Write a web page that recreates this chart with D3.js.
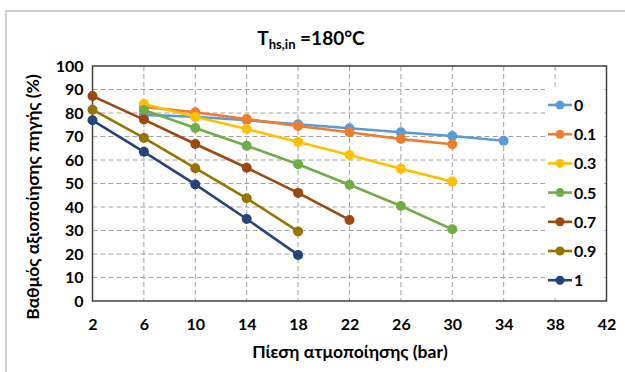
<!DOCTYPE html>
<html>
<head>
<meta charset="utf-8">
<script src="https://cdn.jsdelivr.net/npm/d3@7"></script>
<style>
  html, body { margin: 0; padding: 0; background: #fff; }
  svg { display: block; }
  text { font-family: Lato, "Open Sans", sans-serif; font-weight: bold; fill: #000; }
</style>
</head>
<body>
<svg id="chart" width="625" height="372"></svg>
<script>
// Series labels and colours
const seriesNames = ["0", "0.1", "0.3", "0.5", "0.7", "0.9", "1"];
const seriesColors = ["#5B9BD5", "#ED7D31", "#FFC000", "#70AD47", "#9E480E", "#997300", "#264478"];

// Pressure (bar) and utilisation (%) for each series
const x0   = [6, 10, 14, 18, 22, 26, 30, 34];
const y0   = [79.2, 78.4, 76.9, 75.2, 73.5, 71.8, 70.2, 68.2];
const x01  = [6, 10, 14, 18, 22, 26, 30];
const y01  = [82.6, 80.3, 77.4, 74.5, 71.8, 68.9, 66.7];
const x03  = [6, 10, 14, 18, 22, 26, 30];
const y03  = [83.8, 78.4, 73.2, 67.7, 62.1, 56.3, 50.8];
const x05  = [6, 10, 14, 18, 22, 26, 30];
const y05  = [81.3, 73.6, 66.1, 58.2, 49.5, 40.4, 30.5];
const x07  = [2, 6, 10, 14, 18, 22];
const y07  = [87.2, 77.2, 66.8, 56.7, 46.0, 34.5];
const x09  = [2, 6, 10, 14, 18];
const y09  = [81.4, 69.4, 56.5, 43.7, 29.6];
const x1   = [2, 6, 10, 14, 18];
const y1   = [76.9, 63.5, 49.6, 34.9, 19.6];

const xTicks = [2, 6, 10, 14, 18, 22, 26, 30, 34, 38, 42];
const yTicks = [0, 10, 20, 30, 40, 50, 60, 70, 80, 90, 100];

const series = [
  [x0, y0], [x01, y01], [x03, y03], [x05, y05], [x07, y07], [x09, y09], [x1, y1]
].map((d, i) => ({
  name: seriesNames[i],
  color: seriesColors[i],
  points: d[0].map((xv, j) => ({ x: xv, y: d[1][j] }))
}));

const svg = d3.select("#chart");

// outer chart frame
svg.append("rect")
  .attr("x", 6).attr("y", 11).attr("width", 640).attr("height", 400)
  .attr("fill", "#fff").attr("stroke", "#d0d0d0").attr("stroke-width", 2);

const plot = { left: 92.5, top: 66, right: 606.5, bottom: 301 };

const x = d3.scaleLinear().domain([2, 42]).range([plot.left, plot.right]);
const y = d3.scaleLinear().domain([0, 100]).range([plot.bottom, plot.top]);

// dashed grid
const grid = svg.append("g");
grid.selectAll("line.v").data(xTicks.slice(1, -1)).join("line")
  .attr("x1", d => x(d)).attr("x2", d => x(d))
  .attr("y1", plot.top).attr("y2", plot.bottom)
  .attr("stroke", "#a0a0a0").attr("stroke-width", 1).attr("stroke-dasharray", "5,3");
grid.selectAll("line.h").data(yTicks.slice(1, -1)).join("line")
  .attr("x1", plot.left).attr("x2", plot.right)
  .attr("y1", d => y(d)).attr("y2", d => y(d))
  .attr("stroke", "#a0a0a0").attr("stroke-width", 1).attr("stroke-dasharray", "5,3");

// axes with labels only
const xAxis = svg.append("g")
  .attr("transform", `translate(0,${plot.bottom})`)
  .call(d3.axisBottom(x).tickValues(xTicks).tickSize(0).tickPadding(18));
xAxis.select(".domain").remove();
xAxis.selectAll("text").style("font-size", "16px").style("font-family", "Lato, sans-serif");

const yAxis = svg.append("g")
  .attr("transform", `translate(${plot.left},0)`)
  .call(d3.axisLeft(y).tickValues(yTicks).tickSize(0).tickPadding(9));
yAxis.select(".domain").remove();
yAxis.selectAll("text").style("font-size", "16px").style("font-family", "Lato, sans-serif");

// legend backing hides grid under it
const legendX = 547, legendY0 = 105, legendStep = 29.2;
svg.append("rect")
  .attr("x", 545).attr("y", 89).attr("width", 58).attr("height", 206)
  .attr("fill", "#fff");

// plot frame
svg.append("rect")
  .attr("x", plot.left).attr("y", plot.top)
  .attr("width", plot.right - plot.left).attr("height", plot.bottom - plot.top)
  .attr("fill", "none").attr("stroke", "#404040").attr("stroke-width", 1.5);

// series lines and markers
const line = d3.line().x(d => x(d.x)).y(d => y(d.y));
const sg = svg.append("g");
series.forEach(s => {
  const g = sg.append("g");
  g.append("path").datum(s.points)
    .attr("d", line).attr("fill", "none")
    .attr("stroke", s.color).attr("stroke-width", 2.6);
  g.selectAll("circle").data(s.points).join("circle")
    .attr("cx", d => x(d.x)).attr("cy", d => y(d.y)).attr("r", 5)
    .attr("fill", s.color);
});

// legend
const lg = svg.append("g");
series.forEach((s, i) => {
  const ly = legendY0 + i * legendStep;
  lg.append("line").attr("x1", legendX + 1).attr("x2", legendX + 25)
    .attr("y1", ly).attr("y2", ly).attr("stroke", s.color).attr("stroke-width", 2.6);
  lg.append("circle").attr("cx", legendX + 13).attr("cy", ly).attr("r", 4.5).attr("fill", s.color);
  lg.append("text").attr("x", legendX + 27).attr("y", ly + 6)
    .style("font-size", "16px").text(s.name);
});

// title
const title = svg.append("text").attr("x", 311).attr("y", 45)
  .attr("text-anchor", "middle").style("font-size", "19px");
title.append("tspan").text("T");
title.append("tspan").attr("dy", 4).style("font-size", "13px").text("hs,in");
title.append("tspan").attr("dy", -4).text(" =180\u00B0C");

// axis titles
svg.append("text").attr("x", 350).attr("y", 358)
  .attr("text-anchor", "middle").style("font-size", "17.5px")
  .text("Πίεση ατμοποίησης (bar)");
svg.append("text")
  .attr("transform", "translate(39,197) rotate(-90)")
  .attr("text-anchor", "middle").style("font-size", "17.5px")
  .text("Βαθμός αξιοποίησης πηγής  (%)");
</script>
</body>
</html>
